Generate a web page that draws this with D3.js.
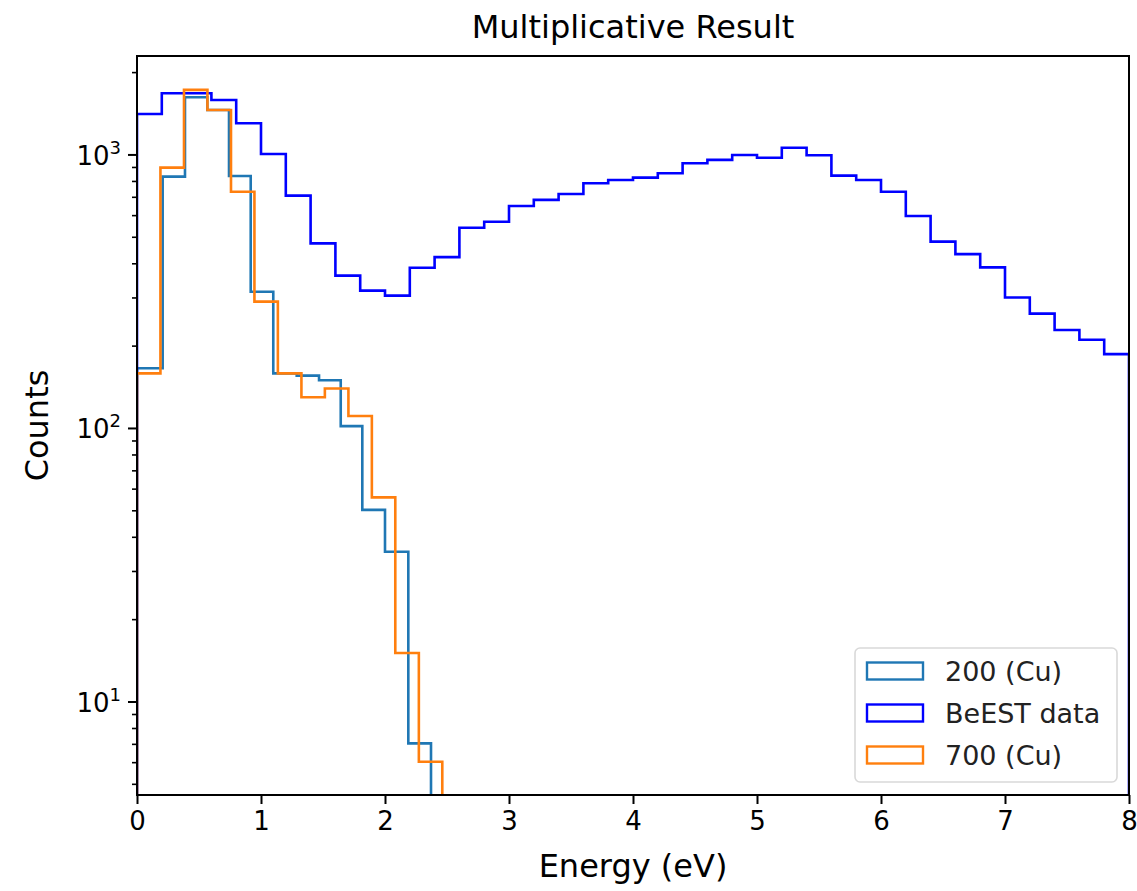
<!DOCTYPE html>
<html>
<head>
<meta charset="utf-8">
<script src="https://cdn.jsdelivr.net/npm/d3@7"></script>
<style>
  body { margin: 0; background: #fff; }
  svg { font-family: "DejaVu Sans", sans-serif; }
</style>
</head>
<body>
<svg id="chart" width="1137" height="891"></svg>
<script>
// Bin edges (eV) and counts
const cuEdges200 = [0, 0.207, 0.387, 0.567, 0.742, 0.917, 1.099, 1.288, 1.468, 1.643, 1.817, 2.0, 2.188, 2.371];
const cuCounts200 = [166, 833, 1626, 1460, 838, 316, 159, 156, 150, 102, 50.4, 35.4, 7.06];

const beestEdges = [0, 0.2, 0.4, 0.6, 0.8, 1.0, 1.2, 1.4, 1.6, 1.8, 2.0, 2.2, 2.4, 2.6, 2.8, 3.0, 3.2, 3.4, 3.6, 3.8,
  4.0, 4.2, 4.4, 4.6, 4.8, 5.0, 5.2, 5.4, 5.6, 5.8, 6.0, 6.2, 6.4, 6.6, 6.8, 7.0, 7.2, 7.4, 7.6, 7.8, 8.0];
const beestCounts = [1412, 1681, 1681, 1589, 1306, 1008, 710, 475, 362, 319, 306, 387, 423, 542, 570, 651, 685, 720, 788, 810,
  826, 857, 933, 959, 1000, 977, 1063, 997, 840, 810, 734, 598, 482, 434, 388, 301, 263, 229, 211, 187];

const cuEdges700 = [0, 0.189, 0.379, 0.568, 0.758, 0.947, 1.136, 1.326, 1.515, 1.705, 1.894, 2.083, 2.273, 2.462];
const cuCounts700 = [159, 899, 1729, 1460, 734, 291, 159, 130, 140, 111, 56, 15.1, 6.05];

const xTicks = [0, 1, 2, 3, 4, 5, 6, 7, 8];
const yMajor = [10, 100, 1000];
const yMinor = [5, 6, 7, 8, 9, 20, 30, 40, 50, 60, 70, 80, 90, 200, 300, 400, 500, 600, 700, 800, 900, 2000];

const series = [
  { name: "200 (Cu)", edges: cuEdges200, counts: cuCounts200, color: "#1f77b4" },
  { name: "BeEST data", edges: beestEdges, counts: beestCounts, color: "#0000ff" },
  { name: "700 (Cu)", edges: cuEdges700, counts: cuCounts700, color: "#ff7f0e" },
];

// Plot area
const plotLeft = 137, plotRight = 1129, plotTop = 56, plotBottom = 795;

const svg = d3.select("#chart");

const x = d3.scaleLinear().domain([0, 8]).range([plotLeft, plotRight]);
const y = d3.scaleLog().domain([4.57, 2300]).range([plotBottom, plotTop]);

svg.append("clipPath").attr("id", "clip")
  .append("rect")
  .attr("x", plotLeft).attr("y", plotTop)
  .attr("width", plotRight - plotLeft).attr("height", plotBottom - plotTop);

// Step outline like matplotlib histtype="step"
function stepPath(edges, counts) {
  const pts = [[x(edges[0]), plotBottom + 20]];
  counts.forEach((c, i) => {
    pts.push([x(edges[i]), y(c)]);
    pts.push([x(edges[i + 1]), y(c)]);
  });
  pts.push([x(edges[edges.length - 1]), plotBottom + 20]);
  return d3.line()(pts);
}

svg.append("g")
  .attr("clip-path", "url(#clip)")
  .selectAll("path")
  .data(series)
  .enter()
  .append("path")
  .attr("d", (d) => stepPath(d.edges, d.counts))
  .attr("fill", "none")
  .attr("stroke", (d) => d.color)
  .attr("stroke-width", 2.6)
  .attr("stroke-linejoin", "miter");

// Frame
svg.append("rect")
  .attr("x", plotLeft).attr("y", plotTop)
  .attr("width", plotRight - plotLeft).attr("height", plotBottom - plotTop)
  .attr("fill", "none")
  .attr("stroke", "#000")
  .attr("stroke-width", 2);

// X axis
const xAxis = svg.append("g")
  .attr("transform", `translate(0,${plotBottom})`)
  .call(d3.axisBottom(x).tickValues(xTicks).tickFormat(d3.format("d")).tickSize(9).tickPadding(8));
xAxis.select(".domain").remove();
xAxis.selectAll("line").attr("stroke", "#000").attr("stroke-width", 2);
xAxis.selectAll("text").attr("font-size", 26).attr("fill", "#000").attr("font-family", "DejaVu Sans");

// Y axis (log)
const yAxis = svg.append("g").attr("transform", `translate(${plotLeft},0)`);
yAxis.selectAll(".minor")
  .data(yMinor)
  .enter()
  .append("line")
  .attr("x1", -5).attr("x2", 0)
  .attr("y1", (d) => y(d)).attr("y2", (d) => y(d))
  .attr("stroke", "#000").attr("stroke-width", 1.6);
yAxis.selectAll(".major")
  .data(yMajor)
  .enter()
  .append("line")
  .attr("x1", -9).attr("x2", 0)
  .attr("y1", (d) => y(d)).attr("y2", (d) => y(d))
  .attr("stroke", "#000").attr("stroke-width", 2);
const yLabels = yAxis.selectAll(".ylab")
  .data(yMajor)
  .enter()
  .append("text")
  .attr("x", -16)
  .attr("y", (d) => y(d) + 10)
  .attr("text-anchor", "end")
  .attr("font-size", 26)
  .attr("fill", "#000");
yLabels.append("tspan").text("10");
yLabels.append("tspan")
  .attr("dy", -11)
  .attr("font-size", 18)
  .text((d) => Math.round(Math.log10(d)));

// Title and axis labels
svg.append("text")
  .attr("x", (plotLeft + plotRight) / 2).attr("y", 38)
  .attr("text-anchor", "middle")
  .attr("font-size", 32)
  .text("Multiplicative Result");

svg.append("text")
  .attr("x", (plotLeft + plotRight) / 2).attr("y", 877)
  .attr("text-anchor", "middle")
  .attr("font-size", 32)
  .text("Energy (eV)");

svg.append("text")
  .attr("transform", `translate(48,${(plotTop + plotBottom) / 2}) rotate(-90)`)
  .attr("text-anchor", "middle")
  .attr("font-size", 32)
  .text("Counts");

// Legend
const legend = svg.append("g").attr("transform", "translate(855,648)");
legend.append("rect")
  .attr("width", 262).attr("height", 134)
  .attr("rx", 5)
  .attr("fill", "#fff").attr("fill-opacity", 0.8)
  .attr("stroke", "#d9d9d9").attr("stroke-width", 1.6);

const legendItem = legend.selectAll(".item")
  .data(series)
  .enter()
  .append("g")
  .attr("transform", (d, i) => `translate(0,${23 + i * 42})`);
legendItem.append("rect")
  .attr("x", 12).attr("y", -8.5)
  .attr("width", 56).attr("height", 17)
  .attr("fill", "none")
  .attr("stroke", (d) => d.color)
  .attr("stroke-width", 2.4);
legendItem.append("text")
  .attr("x", 90).attr("y", 9.5)
  .attr("font-size", 27)
  .attr("fill", "#222")
  .text((d) => d.name);
</script>
</body>
</html>
